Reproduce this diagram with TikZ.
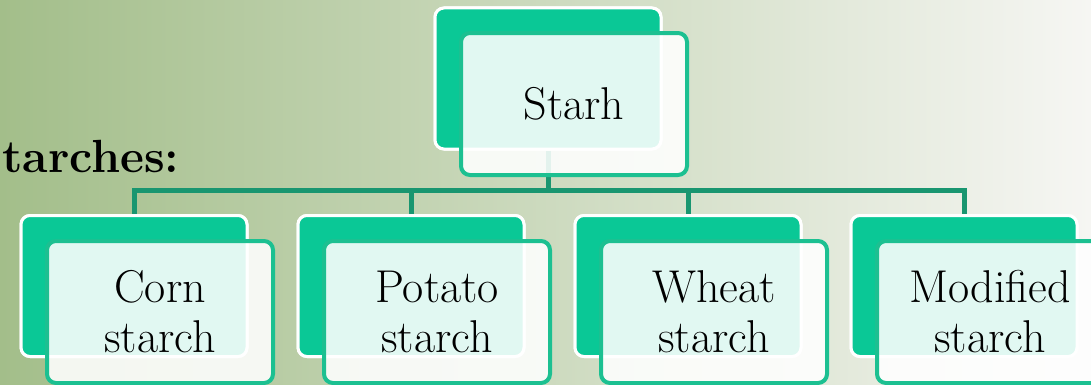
\documentclass[tikz,border=0pt]{standalone}
\definecolor{bgL}{RGB}{163,190,138}
\definecolor{bgM}{RGB}{226,231,217}
\definecolor{bgR}{RGB}{246,246,243}
\definecolor{backgreen}{RGB}{10,200,150}
\definecolor{frontline}{RGB}{28,192,145}
\definecolor{busline}{RGB}{25,150,112}
\begin{document}
\begin{tikzpicture}[x=1pt,y=1pt,
  backbox/.style={draw=white, line width=3pt, fill=backgreen, rounded corners=9pt,
    minimum width=226pt, minimum height=141pt, inner sep=0pt},
  frontbox/.style={draw=frontline, line width=4pt, fill=white, fill opacity=0.88,
    text opacity=1, rounded corners=9pt, minimum width=226pt, minimum height=142pt,
    inner sep=0pt, align=center, font=\fontsize{46}{50}\selectfont},
  bus/.style={draw=busline, line width=5pt}]
\useasboundingbox (0,0) rectangle (1091,384);
\shade[left color=bgL, middle color=bgM, right color=bgR] (0,0) rectangle (1091,384);

\node[anchor=base west, inner sep=0pt, font=\fontsize{46.5}{56}\selectfont\bfseries] (title) at (2,212) {tarches:};

% hub coordinate on the bus
\coordinate (hub) at (548,194);

% back boxes (named, used as connector ends)
\node[backbox] (tb) at (548,305.5) {};
\node[backbox] (cb) at (134,98) {};
\node[backbox] (pb) at (411,98) {};
\node[backbox] (wb) at (688,98) {};
\node[backbox] (mb) at (964,98) {};

% connectors
\draw[bus] (tb.south) -- (hub);
\draw[bus] (cb.north) |- (hub);
\draw[bus] (pb.north) |- (hub);
\draw[bus] (wb.north) |- (hub);
\draw[bus] (mb.north) |- (hub);

% redraw back boxes over connector ends
\node[backbox] at (tb) {};
\node[backbox] at (cb) {};
\node[backbox] at (pb) {};
\node[backbox] at (wb) {};
\node[backbox] at (mb) {};

\node[frontbox] (tf) at (574,280) {Starh};
\node[frontbox] (cf) at (160,72) {Corn\\starch};
\node[frontbox] (pf) at (437,72) {Potato\\starch};
\node[frontbox] (wf) at (714,72) {Wheat\\starch};
\node[frontbox] (mf) at (990,72) {Modified\\starch};
\end{tikzpicture}
\end{document}
